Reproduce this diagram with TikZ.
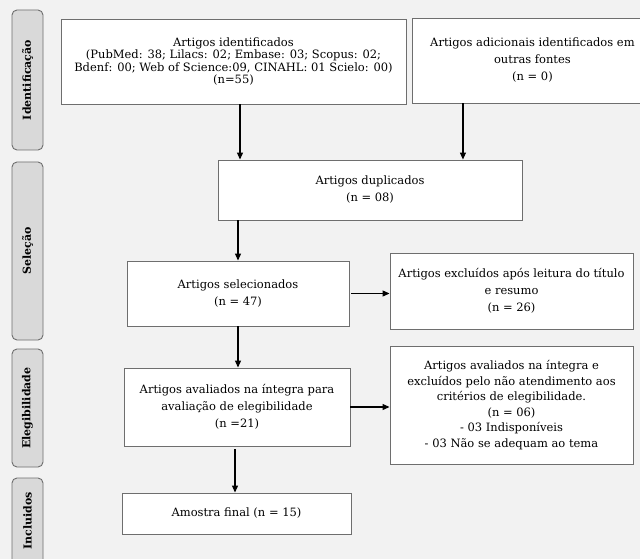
\documentclass[tikz,border=0pt]{standalone}
\usepackage{fontspec}
\setmainfont{DejaVu Serif}
\usepackage{tikz}
\usetikzlibrary{arrows.meta,calc}

\definecolor{bgcol}{HTML}{F2F2F2}
\definecolor{sidecol}{HTML}{D9D9D9}
\definecolor{edgecol}{HTML}{6E6E6E}

\begin{document}
\begin{tikzpicture}[->,>={Triangle[length=7pt,width=6pt]},x=1pt,y=-1pt,
                    line width=1.1pt,
                    every node/.style={font=\fontsize{11.5}{17}\selectfont}]
    \tikzstyle{box}=[draw=edgecol,line width=0.9pt,fill=white,align=center,
      inner sep=2pt]
    \tikzstyle{phase}=[draw=edgecol,line width=0.9pt,fill=sidecol,
      rounded corners=5pt,rotate=90,
      font=\bfseries\fontsize{11}{13}\selectfont]

    \fill[bgcol] (0,0) rectangle (640,559);
    \useasboundingbox (0,0) rectangle (640,559);

    % fases
    \node[phase,minimum width=140pt,minimum height=31pt] (fid) at (27.5,80) {Identificação};
    \node[phase,minimum width=178pt,minimum height=31pt] (fsel) at (27.5,251) {Seleção};
    \node[phase,minimum width=118pt,minimum height=31pt] (feleg) at (27.5,408) {Elegibilidade};
    \node[phase,minimum width=86pt,minimum height=31pt] (finc) at (27.5,521) {Incluidos};

    % caixas
    \node[box,minimum width=345pt,minimum height=85pt,
      font=\fontsize{11.5}{12.5}\selectfont] (idbox) at (233.5,61.5)
      {Artigos identificados\\(PubMed: 38; Lilacs: 02; Embase: 03; Scopus: 02;\\
       Bdenf: 00; Web of Science:09, CINAHL: 01 Scielo: 00)\\(n=55)};
    \node[box,minimum width=240pt,minimum height=85pt,anchor=west] (addbox) at (412,60.5)
      {Artigos adicionais identificados em\\outras fontes\\(n = 0)};
    \node[box,minimum width=304pt,minimum height=60pt] (dupbox) at (370,190)
      {Artigos duplicados\\(n = 08)};
    \node[box,minimum width=222pt,minimum height=65pt] (selbox) at (238,293.5)
      {Artigos selecionados\\(n = 47)};
    \node[box,minimum width=243pt,minimum height=76pt] (excbox) at (511.5,291)
      {Artigos excluídos após leitura do título\\e resumo\\(n = 26)};
    \node[box,minimum width=226pt,minimum height=78pt] (evalbox) at (237,407)
      {Artigos avaliados na íntegra para\\avaliação de elegibilidade\\(n =21)};
    \node[box,minimum width=243pt,minimum height=118pt,
      font=\fontsize{11.5}{15.5}\selectfont] (elimbox) at (511.5,405)
      {Artigos avaliados na íntegra e\\excluídos pelo não atendimento aos\\
       critérios de elegibilidade.\\(n = 06)\\- 03 Indisponíveis\\- 03 Não se adequam ao tema};
    \node[box,minimum width=229pt,minimum height=41pt] (finalbox) at (236.5,513.5)
      {Amostra final (n = 15)};

    % setas
    \draw ([xshift=6.5pt]idbox.south) -- ([xshift=6.5pt]idbox.south |- dupbox.north);
    \draw ([xshift=-69.5pt]addbox.south) -- ([xshift=-69.5pt]addbox.south |- dupbox.north);
    \draw (dupbox.south -| selbox.north) -- (selbox.north);
    \draw[shorten <=2pt] (selbox.east) -- (selbox.east -| excbox.west);
    \draw (selbox.south) -- (selbox.south |- evalbox.north);
    \draw (evalbox.east) -- (evalbox.east -| elimbox.west);
    \draw[shorten <=3pt] ([xshift=-2pt]evalbox.south) -- ([xshift=-2pt]evalbox.south |- finalbox.north);

\end{tikzpicture}
\end{document}
